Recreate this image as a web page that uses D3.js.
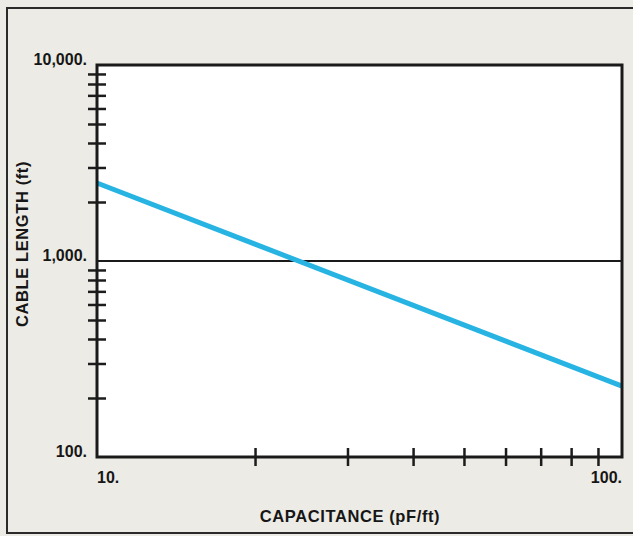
<!DOCTYPE html>
<html>
<head>
<meta charset="utf-8">
<script src="https://cdn.jsdelivr.net/npm/d3@7"></script>
<style>
  html, body { margin: 0; padding: 0; background: #ecebe5; }
  svg { display: block; }
  text { font-family: "Liberation Sans", Arial, sans-serif; font-weight: bold; fill: #161616; }
</style>
</head>
<body>
<script>
// chart values
const capacitance = [10, 100];          // pF/ft
const cableLength = [2500, 230];        // ft
const xTickValues = [10, 100];
const xTickLabels = ["10.", "100."];
const yTickValues = [100, 1000, 10000];
const yTickLabels = ["100.", "1,000.", "10,000."];
const yRefLine = [1000];

const W = 633, H = 536;
const margin = {top: 65, right: 11, bottom: 79, left: 97},
      width = W - margin.left - margin.right,
      height = H - margin.top - margin.bottom;

const svg = d3.select('body').append('svg')
    .attr('width', W)
    .attr('height', H);

// outer frame of the figure
svg.append('rect')
    .attr('x', 7).attr('y', 8)
    .attr('width', 640).attr('height', 525)
    .attr('fill', '#ecebe5')
    .attr('stroke', '#2a2a2a')
    .attr('stroke-width', 2);

const g = svg.append('g')
    .attr('transform', 'translate(' + margin.left + ',' + margin.top + ')');

const x = d3.scaleLog()
    .domain([10, 100])
    .range([0, width]);

const y = d3.scaleLog()
    .domain([100, 10000])
    .range([height, 0]);

// white plotting area
g.append('rect')
    .attr('width', width)
    .attr('height', height)
    .attr('fill', '#ffffff');

// minor ticks drawn as crosses
const xMinor = x.ticks().filter(d => !xTickValues.includes(d));
const yMinor = y.ticks().filter(d => !yTickValues.includes(d));

const xAxis = g.append('g')
    .attr('transform', 'translate(0,' + height + ')')
    .call(d3.axisBottom(x).tickValues(xMinor).tickFormat('').tickSizeOuter(0));
xAxis.select('.domain').remove();
xAxis.selectAll('line')
    .attr('y1', -9).attr('y2', 9)
    .attr('stroke', '#1c1c1c')
    .attr('stroke-width', 2.5);

const yAxis = g.append('g')
    .call(d3.axisLeft(y).tickValues(yMinor).tickFormat('').tickSizeOuter(0));
yAxis.select('.domain').remove();
yAxis.selectAll('line')
    .attr('x1', -9).attr('x2', 9)
    .attr('stroke', '#1c1c1c')
    .attr('stroke-width', 2.5);

// 1,000 reference line
g.selectAll('.ref')
    .data(yRefLine)
    .join('line')
    .attr('class', 'ref')
    .attr('x1', 0).attr('x2', width)
    .attr('y1', d => y(d)).attr('y2', d => y(d))
    .attr('stroke', '#1a1a1a')
    .attr('stroke-width', 2);

// the data line
const line = d3.line()
    .x(d => x(d[0]))
    .y(d => y(d[1]));

g.append('path')
    .datum(d3.zip(capacitance, cableLength))
    .attr('d', line)
    .attr('fill', 'none')
    .attr('stroke', '#27b4e3')
    .attr('stroke-width', 5);

// plot frame
g.append('rect')
    .attr('width', width)
    .attr('height', height)
    .attr('fill', 'none')
    .attr('stroke', '#1a1a1a')
    .attr('stroke-width', 3);

// y tick labels
g.selectAll('.ylab')
    .data(yTickValues)
    .join('text')
    .attr('class', 'ylab')
    .attr('x', -10)
    .attr('y', d => y(d))
    .attr('text-anchor', 'end')
    .attr('font-size', 16)
    .text((d, i) => yTickLabels[i]);

// x tick labels
g.selectAll('.xlab')
    .data(xTickValues)
    .join('text')
    .attr('class', 'xlab')
    .attr('x', d => x(d))
    .attr('y', height + 26)
    .attr('text-anchor', (d, i) => i === 0 ? 'start' : 'end')
    .attr('font-size', 16)
    .text((d, i) => xTickLabels[i]);

// axis titles
svg.append('text')
    .attr('x', 350)
    .attr('y', 522)
    .attr('text-anchor', 'middle')
    .attr('font-size', 16.5)
    .attr('letter-spacing', 0.6)
    .text('CAPACITANCE (pF/ft)');

svg.append('text')
    .attr('transform', 'translate(28,244) rotate(-90)')
    .attr('text-anchor', 'middle')
    .attr('font-size', 16.5)
    .attr('letter-spacing', 0.6)
    .text('CABLE LENGTH (ft)');
</script>
</body>
</html>
